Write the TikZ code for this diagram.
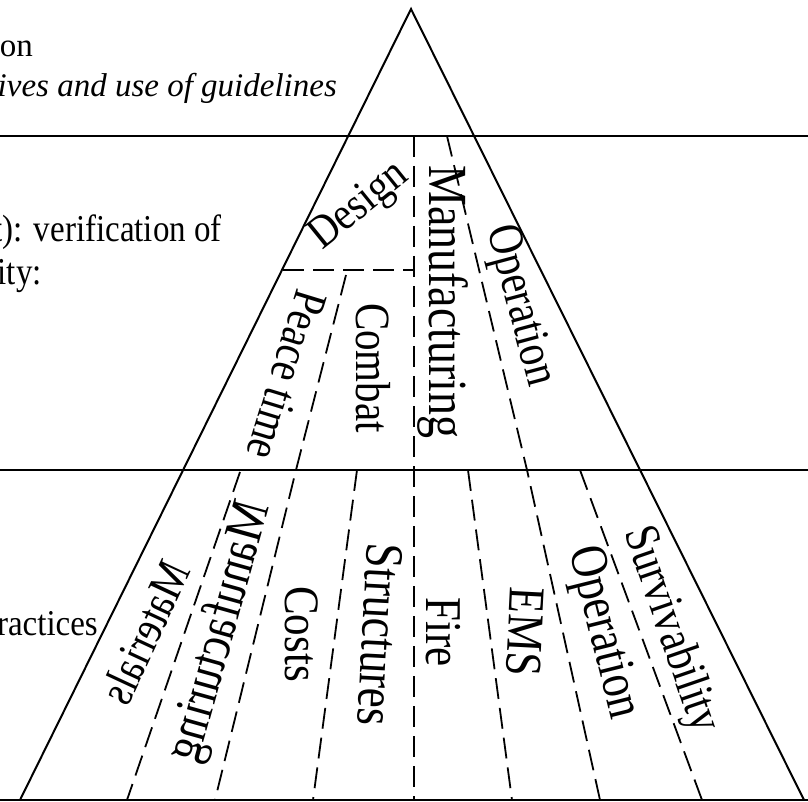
\documentclass[tikz,border=0pt]{standalone}
\usepackage{fontspec}
\setmainfont{Liberation Serif}
\begin{document}
\begin{tikzpicture}[x=1pt,y=-1pt,
  solidline/.style={line width=2pt},
  hline/.style={line width=2.6pt},
  dashline/.style={line width=1.8pt, dash pattern=on 21pt off 9pt},
  lbl/.style={inner sep=0pt, font=\fontsize{#1}{#1}\selectfont},
  lbl/.default=42,
  lefttext/.style={inner sep=0pt, anchor=base east, font=\fontsize{33}{40}\selectfont}]
\useasboundingbox (0,0) rectangle (808,802);

% triangle corners
\coordinate (apex) at (411,9);
\coordinate (bl) at (20,800);
\coordinate (br) at (804,800);

% horizontal lines
\coordinate (h1l) at (0,136);   \coordinate (h1r) at (808,136);
\coordinate (h2l) at (0,470);   \coordinate (h2r) at (808,470);
\coordinate (h3l) at (0,800);   \coordinate (h3r) at (808,800);
\draw[hline] (h1l) -- (h1r);
\draw[hline] (h2l) -- (h2r);
\draw[hline] (h3l) -- (h3r);

\draw[solidline] (bl) -- (apex) -- (br);

% dashed partitions
\coordinate (vt) at (414,136); \coordinate (vb) at (414,800);
\draw[dashline] (vt) -- (vb);
\coordinate (dl) at (283,270); \coordinate (dr) at (414,270);
\draw[dashline] (dl) -- (dr);
\coordinate (pa) at (346,275); \coordinate (pb) at (296,470); \coordinate (pc) at (215,800);
\draw[dashline] (pa) -- (pb) -- (pc);
\coordinate (ma) at (447,136); \coordinate (mb) at (527,470); \coordinate (mc) at (600,800);
\draw[dashline] (ma) -- (mb) -- (mc);
\coordinate (b1t) at (240,472); \coordinate (b1b) at (127,800);
\draw[dashline] (b1t) -- (b1b);
\coordinate (b2t) at (357,470); \coordinate (b2b) at (313,800);
\draw[dashline] (b2t) -- (b2b);
\coordinate (b3t) at (468,470); \coordinate (b3b) at (512,800);
\draw[dashline] (b3t) -- (b3b);
\coordinate (b4t) at (580,470); \coordinate (b4b) at (702,800);
\draw[dashline] (b4t) -- (b4b);

% left texts (clipped at the page edge)
\node[lefttext] (t1) at (33,57) {on};
\node[lefttext, font=\fontsize{33}{40}\selectfont\itshape] (t2) at (337,97) {ives and use of guidelines};
\node[lefttext, yscale=1.15] (t3) at (222,242) {t): verification of};
\node[lefttext, yscale=1.15] (t4) at (42,284) {ity:};
\node[lefttext, yscale=1.1] (t5) at (98,635) {ractices};

% middle level labels
\node[lbl=40, rotate=39, yscale=1.15] (design) at (360,207) {Design};
\node[lbl=46, rotate=-90, yscale=1.2] (manuf1) at (443,302) {Manufacturing};
\node[lbl=41, rotate=-75, yscale=1.2] (oper1) at (519,306) {Operation};
\node[lbl=41, rotate=-90, yscale=1.2] (combat) at (373,368) {Combat};
\node[lbl=40, rotate=-107, yscale=1.2] (peace) at (287,375) {Peace time};

% bottom level labels
\node[lbl=40, rotate=-115, yscale=-1.2] (mater) at (145,632) {Materials};
\node[lbl=45, rotate=-105.6, yscale=-1.2] (manuf2) at (221,632) {Manufacturing};
\node[lbl=43, rotate=-90, yscale=1.15] (costs) at (302,634) {Costs};
\node[lbl=45, rotate=-93, yscale=1.2] (struct) at (380,635) {Structures};
\node[lbl=43, rotate=-90, yscale=1.2] (fire) at (443,632) {Fire};
\node[lbl=43, rotate=-93, yscale=1.2] (ems) at (525,632) {EMS};
\node[lbl=44, rotate=-76, yscale=1.2] (oper2) at (602,633) {Operation};
\node[lbl=41, rotate=-71, yscale=1.2] (surv) at (670,630) {Survivability};
\end{tikzpicture}
\end{document}
